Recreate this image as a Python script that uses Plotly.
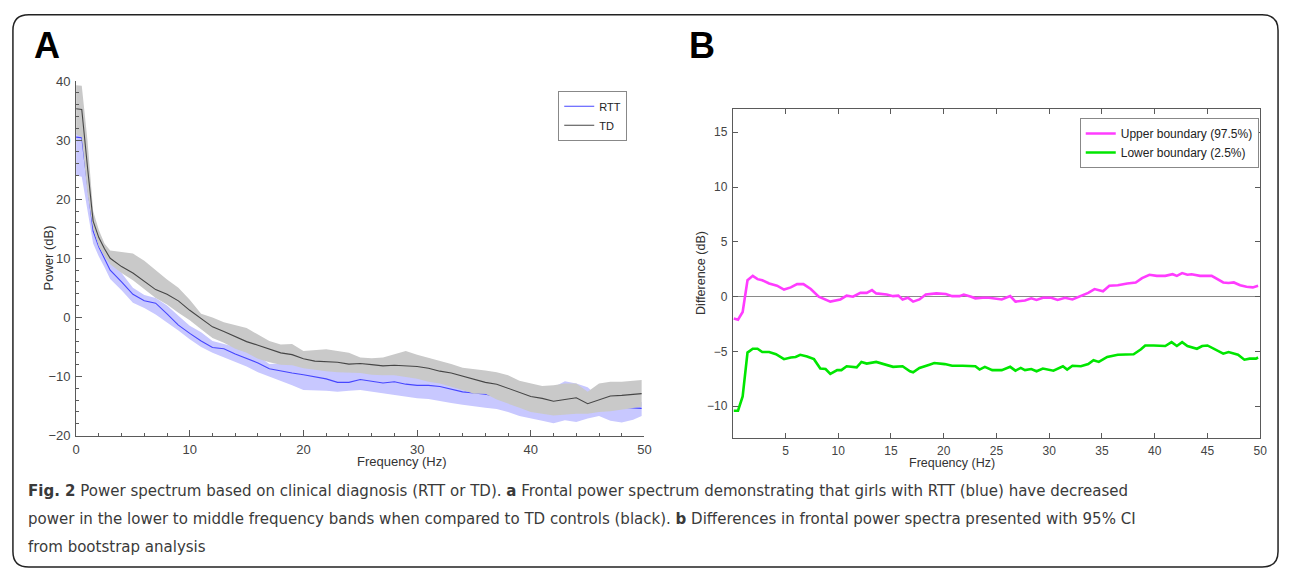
import plotly.graph_objects as go

W, H = 1290, 578

# ---------------- Panel A data (frontal power spectrum) ----------------
freq_a = [0, 0.5, 1, 1.5, 2, 2.5, 3] + list(range(4, 50)) + [49.75]

td_mean = [35.3, 35.2, 25.5, 16.3, 13.5, 11.6, 10.0,
           8.6, 7.5, 6.1, 4.7, 3.9, 2.8, 1.2, -0.2, -1.6, -2.4, -3.2, -4.1, -4.7, -5.4, -6.0, -6.3,
           -7.0, -7.4, -7.5, -7.6, -7.9, -7.8, -8.0, -8.2, -8.1, -8.2, -8.3, -8.6, -9.1, -9.4, -9.9,
           -10.5, -11.0, -11.3, -12.0, -12.6, -13.4, -13.7, -14.2, -13.9, -13.6, -14.6, -14.0, -13.3,
           -13.2, -13.0, -12.9]
td_upper = [39.3, 39.2, 30.0, 18.0, 14.8, 12.5, 11.3,
            11.0, 10.8, 9.6, 8.0, 6.4, 5.0, 3.0, 0.6, 0.0, -0.8, -1.3, -1.8, -2.9, -4.0, -4.6, -4.5,
            -5.7, -5.6, -5.4, -5.7, -6.0, -6.8, -6.9, -6.8, -6.3, -5.7, -6.3, -6.8, -7.4, -7.9, -8.5,
            -8.7, -9.0, -9.3, -9.8, -10.7, -11.2, -11.6, -11.5, -11.2, -11.2, -12.6, -11.2, -10.9,
            -10.9, -10.8, -10.6]
td_lower = [31.0, 30.5, 21.0, 15.0, 12.0, 10.3, 9.0,
            7.5, 6.3, 4.8, 3.3, 2.2, 0.8, -0.5, -2.0, -3.5, -4.3, -5.3, -6.0, -7.0, -7.6, -8.0, -8.1,
            -8.6, -8.9, -9.1, -9.3, -9.4, -9.4, -9.7, -9.8, -9.8, -10.1, -10.4, -10.9, -11.2, -11.8,
            -12.3, -12.9, -12.9, -13.9, -14.6, -15.3, -16.0, -16.3, -16.6, -16.4, -16.3, -16.3, -16.0,
            -15.9, -15.6, -15.3, -15.1]

rtt_mean = [30.5, 30.4, 22.5, 14.6, 11.9, 10.0, 8.0,
            6.0, 3.9, 2.8, 2.4, 0.6, -1.3, -2.7, -4.0, -5.1, -5.3, -6.2, -6.9, -7.7, -8.7, -9.1, -9.4,
            -9.7, -10.0, -10.4, -11.0, -11.0, -10.5, -10.8, -11.1, -10.9, -11.3, -11.5, -11.5, -11.7,
            -12.2, -12.6, -12.8, -13.0, -13.4, -13.8, -14.2, -14.5, -14.7, -14.8, -14.9, -15.0, -15.1,
            -15.0, -15.1, -15.2, -15.3, -15.4]
rtt_upper = [31.2, 31.0, 23.0, 15.5, 12.5, 10.8, 9.4,
             7.5, 5.0, 3.8, 3.3, 2.0, 0.3, -1.4, -2.5, -4.0, -4.5, -5.0, -5.5, -6.5, -7.9, -7.8, -8.0,
             -8.2, -8.5, -8.8, -9.0, -9.0, -9.0, -9.2, -9.4, -9.4, -9.8, -10.0, -10.3, -10.8, -11.3,
             -11.8, -12.3, -12.5, -12.8, -13.0, -13.5, -13.8, -13.0, -11.8, -10.8, -11.2, -11.8, -13.5,
             -14.0, -14.2, -14.3, -14.3]
rtt_lower = [24.0, 23.8, 18.0, 12.5, 10.3, 8.5, 6.5,
             4.6, 2.5, 1.6, 0.5, -0.9, -2.2, -3.7, -5.0, -6.0, -6.8, -7.5, -8.3, -9.3, -10.0, -10.8,
             -11.5, -12.3, -12.3, -12.4, -12.6, -12.4, -12.3, -12.6, -12.9, -13.1, -13.4, -13.7, -13.8,
             -14.2, -14.5, -14.8, -15.1, -15.3, -15.5, -16.0, -16.7, -17.1, -17.5, -17.9, -17.4, -17.7,
             -17.1, -16.7, -17.5, -17.8, -17.3, -16.7]

# ---------------- Panel B data (bootstrap 95% CI of difference) ----------------
upper_f = [0.1, 0.5, 0.94, 1.4, 1.9, 2.35, 2.8, 3.45, 4.2, 4.86, 5.5, 6.1, 6.7, 7.4, 8.15, 8.6, 9.25,
           10.2, 10.8, 11.4, 12.1, 12.7, 13.2, 13.6, 14.6, 15.2, 15.7, 16.1, 16.6, 17.1, 17.7, 18.3,
           19.3, 20.2, 20.8, 21.5, 21.9, 22.6, 23.0, 23.7, 24.3, 25.5, 26.3, 26.8, 27.7, 28.3, 28.8,
           29.4, 30.2, 30.8, 31.5, 32.2, 33.0, 33.7, 34.3, 35.1, 35.7, 36.5, 37.4, 38.2, 38.8, 39.5,
           40.2, 41.0, 41.7, 42.1, 42.6, 43.1, 43.5, 44.3, 45.4, 46.0, 46.5, 47.0, 47.5, 48.1, 48.7,
           49.3, 49.8]
upper_db = [-2.0, -2.1, -1.4, 1.5, 1.9, 1.6, 1.5, 1.2, 1.0, 0.65, 0.85, 1.15, 1.15, 0.7, 0.0, -0.2,
            -0.45, -0.25, 0.1, 0.0, 0.35, 0.35, 0.6, 0.3, 0.2, 0.05, 0.1, -0.25, -0.1, -0.45, -0.25,
            0.2, 0.3, 0.25, 0.05, 0.05, 0.2, 0.0, -0.15, -0.1, -0.1, -0.25, 0.05, -0.45, -0.35, -0.15,
            -0.3, -0.1, -0.1, -0.3, -0.1, -0.25, 0.1, 0.35, 0.7, 0.5, 1.0, 1.05, 1.2, 1.3, 1.7, 2.0,
            1.9, 1.9, 2.05, 1.9, 2.15, 2.0, 2.05, 1.9, 1.9, 1.6, 1.3, 1.25, 1.3, 1.05, 0.9, 0.85, 1.0]
lower_f = [0.1, 0.5, 0.94, 1.4, 1.9, 2.35, 2.8, 3.45, 4.1, 4.86, 5.5, 5.96, 6.4, 7.05, 7.7, 8.3, 8.8,
           9.25, 9.9, 10.3, 10.8, 11.75, 12.2, 12.7, 13.6, 14.3, 14.7, 15.2, 16.1, 16.8, 17.1, 17.7,
           18.65, 19.1, 20.1, 20.8, 21.8, 22.4, 23.0, 23.4, 23.9, 24.6, 25.5, 26.3, 26.8, 27.3, 27.7,
           28.3, 28.8, 29.4, 30.4, 31.3, 31.7, 32.2, 33.0, 33.7, 34.2, 34.7, 35.5, 36.5, 38.0, 38.7,
           39.1, 39.9, 41.0, 41.6, 42.1, 42.6, 43.1, 44.0, 44.5, 45.0, 45.7, 46.5, 47.0, 47.9, 48.5,
           49.0, 49.6, 49.8]
lower_db = [-10.4, -10.4, -9.1, -5.1, -4.75, -4.75, -5.05, -5.05, -5.25, -5.7, -5.55, -5.5, -5.3,
            -5.45, -5.7, -6.55, -6.6, -7.05, -6.7, -6.7, -6.35, -6.45, -5.95, -6.1, -5.95, -6.15,
            -6.2, -6.4, -6.35, -6.8, -6.9, -6.5, -6.2, -6.05, -6.15, -6.3, -6.3, -6.35, -6.35, -6.65,
            -6.4, -6.7, -6.7, -6.4, -6.75, -6.5, -6.7, -6.6, -6.8, -6.55, -6.75, -6.35, -6.65, -6.3,
            -6.35, -6.15, -5.8, -5.95, -5.5, -5.3, -5.25, -4.8, -4.45, -4.45, -4.5, -4.15, -4.5,
            -4.15, -4.5, -4.75, -4.5, -4.45, -4.8, -5.2, -5.05, -5.3, -5.75, -5.65, -5.65, -5.55]

a_xticks = [0, 10, 20, 30, 40, 50]
a_yticks = [-20, -10, 0, 10, 20, 30, 40]
b_xticks = [5, 10, 15, 20, 25, 30, 35, 40, 45, 50]
b_yticks = [-10, -5, 0, 5, 10, 15]

caption_lines = [
    "<b>Fig. 2</b> Power spectrum based on clinical diagnosis (RTT or TD). <b>a</b> Frontal power spectrum demonstrating that girls with RTT (blue) have decreased",
    "power in the lower to middle frequency bands when compared to TD controls (black). <b>b</b> Differences in frontal power spectra presented with 95% CI",
    "from bootstrap analysis",
]


def px(x):
    return x / W


def py(y):
    return 1 - y / H


fig = go.Figure()

# Panel A: RTT band + line, then TD band + line (TD band drawn on top)
fig.add_trace(go.Scatter(x=freq_a + freq_a[::-1], y=rtt_upper + rtt_lower[::-1], fill="toself",
                         fillcolor="rgb(200,200,255)", line=dict(width=0), mode="lines",
                         showlegend=False, hoverinfo="skip", xaxis="x", yaxis="y"))
fig.add_trace(go.Scatter(x=freq_a, y=rtt_mean, mode="lines", name="RTT",
                         line=dict(color="rgb(70,70,255)", width=1.1), legend="legend",
                         xaxis="x", yaxis="y"))
fig.add_trace(go.Scatter(x=freq_a + freq_a[::-1], y=td_upper + td_lower[::-1], fill="toself",
                         fillcolor="rgb(201,201,201)", line=dict(width=0), mode="lines",
                         showlegend=False, hoverinfo="skip", xaxis="x", yaxis="y"))
fig.add_trace(go.Scatter(x=freq_a, y=td_mean, mode="lines", name="TD",
                         line=dict(color="rgb(70,70,70)", width=1.1), legend="legend",
                         xaxis="x", yaxis="y"))

# Panel B
fig.add_trace(go.Scatter(x=upper_f, y=upper_db, mode="lines", name="Upper boundary (97.5%)",
                         line=dict(color="rgb(255,60,255)", width=2.6), legend="legend2",
                         xaxis="x2", yaxis="y2"))
fig.add_trace(go.Scatter(x=lower_f, y=lower_db, mode="lines", name="Lower boundary (2.5%)",
                         line=dict(color="rgb(0,230,0)", width=2.6), legend="legend2",
                         xaxis="x2", yaxis="y2"))

axis_col = "#5a5a5a"
tick_font = dict(family="Liberation Sans, Arial, sans-serif", size=13, color="#444444")

fig.update_layout(
    width=W, height=H, autosize=False,
    margin=dict(l=0, r=0, t=0, b=0, pad=0),
    paper_bgcolor="white", plot_bgcolor="white",
    font=dict(family="Liberation Sans, Arial, sans-serif", color="#333333"),
    xaxis=dict(domain=[px(72.7), px(646)], range=[0, 50], tickvals=a_xticks,
               showline=True, linecolor=axis_col, linewidth=1, ticks="inside", ticklen=6,
               tickcolor=axis_col, showgrid=False, zeroline=False, tickfont=tick_font,
               ticklabelstandoff=2,
               minor=dict(dtick=2, ticks="inside", ticklen=3, tickcolor=axis_col, showgrid=False),
               anchor="y"),
    yaxis=dict(domain=[py(440), py(76)], range=[-20, 40], tickvals=a_yticks,
               showline=True, linecolor=axis_col, linewidth=1, ticks="inside", ticklen=6,
               tickcolor=axis_col, showgrid=False, zeroline=False, tickfont=tick_font,
               ticklabelstandoff=2,
               minor=dict(dtick=2, ticks="inside", ticklen=3, tickcolor=axis_col, showgrid=False),
               anchor="x"),
    xaxis2=dict(domain=[px(735), px(1267)], range=[0, 50], tickvals=b_xticks,
                showline=True, mirror="ticks", linecolor=axis_col, linewidth=1, ticks="inside",
                ticklen=5, tickcolor=axis_col, showgrid=False, zeroline=False,
                tickfont=dict(tick_font, size=12), ticklabelstandoff=2, anchor="y2"),
    yaxis2=dict(domain=[py(442), py(105)], range=[-12.85, 17.1], tickvals=b_yticks,
                showline=True, mirror="ticks", linecolor=axis_col, linewidth=1, ticks="inside",
                ticklen=5, tickcolor=axis_col, showgrid=False, zeroline=True,
                zerolinecolor="#8a8a8a", zerolinewidth=1, ticklabelstandoff=2,
                tickfont=dict(tick_font, size=12), anchor="x2"),
    legend=dict(x=px(559), y=py(86), xanchor="left", yanchor="top",
                bgcolor="white", bordercolor="#888888", borderwidth=1,
                font=dict(size=11, color="#222222"), itemwidth=30, tracegroupgap=0),
    legend2=dict(x=px(1085), y=py(114), xanchor="left", yanchor="top",
                 bgcolor="white", bordercolor="#888888", borderwidth=1,
                 font=dict(size=12, color="#222222"), itemwidth=30, tracegroupgap=0),
)

ann = []
# panel letters
ann.append(dict(text="<b>A</b>", x=px(28), y=py(40), xref="paper", yref="paper",
                xanchor="left", yanchor="middle", showarrow=False,
                font=dict(size=36, family="Liberation Sans, Arial, sans-serif", color="black")))
ann.append(dict(text="<b>B</b>", x=px(689), y=py(40), xref="paper", yref="paper",
                xanchor="left", yanchor="middle", showarrow=False,
                font=dict(size=36, family="Liberation Sans, Arial, sans-serif", color="black")))
# axis titles
title_font = dict(size=13, family="Liberation Sans, Arial, sans-serif", color="#333333")
ann.append(dict(text="Power (dB)", x=px(36), y=py(258), xref="paper", yref="paper",
                textangle=-90, showarrow=False, font=title_font, borderpad=0))
ann.append(dict(text="Frequency (Hz)", x=px(355), y=py(475), xref="paper", yref="paper",
                showarrow=False, font=dict(title_font, size=13), borderpad=0))
ann.append(dict(text="Difference (dB)", x=px(703), y=py(273), xref="paper", yref="paper",
                textangle=-90, showarrow=False, font=dict(title_font, size=12.5), borderpad=0))
ann.append(dict(text="Frequency (Hz)", x=px(1001), y=py(476), xref="paper", yref="paper",
                showarrow=False, font=dict(title_font, size=12.5), borderpad=0))
# caption
for i, line in enumerate(caption_lines):
    ann.append(dict(text=line, x=px(22), y=py(496 + 28.5 * i), xref="paper", yref="paper",
                    xanchor="left", yanchor="middle", showarrow=False,
                    font=dict(size=16.7, family="Liberation Sans Narrow, DejaVu Sans Condensed, sans-serif",
                              color="#3a3a3a")))
fig.update_layout(annotations=ann)

# rounded frame around the whole figure
L, T, R, B, r = 9, 8, 1285, 575, 16
path = (f"M {px(L + r)} {py(T)} L {px(R - r)} {py(T)} Q {px(R)} {py(T)} {px(R)} {py(T + r)} "
        f"L {px(R)} {py(B - r)} Q {px(R)} {py(B)} {px(R - r)} {py(B)} "
        f"L {px(L + r)} {py(B)} Q {px(L)} {py(B)} {px(L)} {py(B - r)} "
        f"L {px(L)} {py(T + r)} Q {px(L)} {py(T)} {px(L + r)} {py(T)} Z")
fig.add_shape(type="path", path=path, xref="paper", yref="paper",
              line=dict(color="#222222", width=1.5), fillcolor="rgba(0,0,0,0)")

page_fix = ("document.documentElement.style.margin='0';document.body.style.margin='0';"
            "document.body.style.overflow='hidden';"
            "var gd=document.getElementById('{plot_id}');"
            "gd.style.position='fixed';gd.style.left='0px';gd.style.top='0px';")
fig.write_html("out.html", config={"displayModeBar": False}, post_script=page_fix)
